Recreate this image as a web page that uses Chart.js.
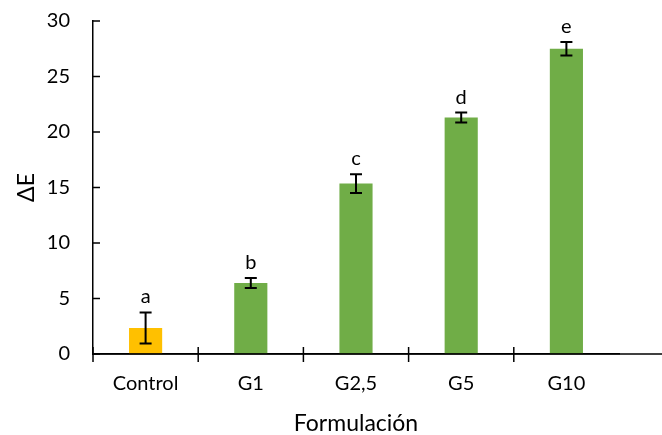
<!DOCTYPE html>
<html>
<head>
<meta charset="utf-8">
<script src="https://cdn.jsdelivr.net/npm/chart.js@4/dist/chart.umd.min.js"></script>
<style>
  html, body { margin: 0; padding: 0; background: #fff; }
  #wrap { width: 662px; height: 435px; }
</style>
</head>
<body>
<div id="wrap"><canvas id="deltaChart"></canvas></div>
<script>
// data
const categories = ['Control', 'G1', 'G2,5', 'G5', 'G10'];
const deltaE = [2.35, 6.4, 15.35, 21.3, 27.5];
const errors = [1.4, 0.45, 0.85, 0.45, 0.6];
const letters = ['a', 'b', 'c', 'd', 'e'];
const barColors = ['#FFC000', '#70AD47', '#70AD47', '#70AD47', '#70AD47'];

const fontFamily = 'Lato, "Open Sans", sans-serif';

// error bars, significance letters and the tick marks Excel style
const extrasPlugin = {
  id: 'extras',
  afterDatasetsDraw(chart) {
    const ctx = chart.ctx;
    const x = chart.scales.x;
    const y = chart.scales.y;
    const area = chart.chartArea;
    ctx.save();
    ctx.strokeStyle = '#000';

    // error bars
    ctx.lineWidth = 2;
    deltaE.forEach((v, i) => {
      const cx = x.getPixelForValue(i);
      const top = y.getPixelForValue(v + errors[i]);
      const bot = y.getPixelForValue(v - errors[i]);
      ctx.beginPath();
      ctx.moveTo(cx, top);
      ctx.lineTo(cx, bot);
      ctx.moveTo(cx - 6, top);
      ctx.lineTo(cx + 6, top);
      ctx.moveTo(cx - 6, bot);
      ctx.lineTo(cx + 6, bot);
      ctx.stroke();

      ctx.fillStyle = '#000';
      ctx.font = '20px ' + fontFamily;
      ctx.textAlign = 'center';
      ctx.textBaseline = 'alphabetic';
      ctx.fillText(letters[i], cx, top - 9);
    });

    ctx.lineWidth = 1.5;
    // y ticks pointing into the plot
    y.ticks.forEach(t => {
      const py = y.getPixelForValue(t.value);
      ctx.beginPath();
      ctx.moveTo(area.left, py);
      ctx.lineTo(area.left + 7, py);
      ctx.stroke();
    });

    // x ticks crossing the axis at category borders
    const step = x.getPixelForValue(1) - x.getPixelForValue(0);
    for (let i = 0; i < categories.length; i++) {
      const px = x.getPixelForValue(i) - step / 2;
      ctx.beginPath();
      ctx.moveTo(px, area.bottom - 7);
      ctx.lineTo(px, area.bottom + 8);
      ctx.stroke();
    }

    // axis line runs on to the right edge
    ctx.beginPath();
    ctx.moveTo(area.left, area.bottom);
    ctx.lineTo(chart.width, area.bottom);
    ctx.stroke();
    ctx.restore();
  }
};

new Chart(document.getElementById('deltaChart'), {
  type: 'bar',
  data: {
    labels: categories,
    datasets: [
      {
        label: 'ΔE',
        data: deltaE,
        backgroundColor: barColors,
        barPercentage: 0.315,
        categoryPercentage: 1
      }
    ]
  },
  options: {
    responsive: true,
    maintainAspectRatio: false,
    animation: false,
    layout: {
      padding: { top: 21, right: 43, bottom: 0, left: 15 }
    },
    plugins: {
      legend: { display: false },
      tooltip: { enabled: false }
    },
    scales: {
      x: {
        offset: true,
        border: { display: true, color: '#000', width: 1.5 },
        grid: { display: true, drawOnChartArea: false, drawTicks: false },
        ticks: {
          color: '#000',
          padding: 18,
          font: { family: fontFamily, size: 20 }
        },
        title: {
          display: true,
          text: 'Formulación',
          color: '#000',
          padding: { top: 16, bottom: 0 },
          font: { family: fontFamily, size: 23, lineHeight: 1 }
        },
        afterFit(scale) {
          // fixed band height so the plot sits where it does in the figure
          scale.height = 81;
          scale.paddingLeft = 0;
          scale.paddingRight = 0;
        }
      },
      y: {
        min: 0,
        max: 30,
        border: { display: true, color: '#000', width: 1.5 },
        grid: { display: true, drawOnChartArea: false, drawTicks: false },
        ticks: {
          stepSize: 5,
          color: '#000',
          padding: 23,
          font: { family: fontFamily, size: 20 }
        },
        title: {
          display: true,
          text: 'ΔE',
          color: '#000',
          padding: { top: 0, bottom: 9 },
          font: { family: fontFamily, size: 23, lineHeight: 1 }
        },
        afterFit(scale) {
          scale.width = 78;
          scale.paddingTop = 0;
          scale.paddingBottom = 0;
        }
      }
    }
  },
  plugins: [extrasPlugin]
});
</script>
</body>
</html>
